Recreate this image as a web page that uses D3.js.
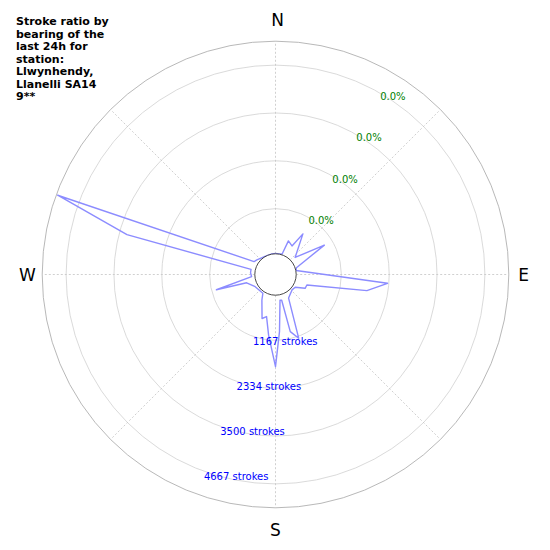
<!DOCTYPE html>
<html>
<head>
<meta charset="utf-8">
<script src="https://cdn.jsdelivr.net/npm/d3@7"></script>
<style>
  body { margin: 0; background: #fff; }
  svg text { font-family: "DejaVu Sans", sans-serif; }
</style>
</head>
<body>
<div id="chart"></div>
<script>
const width = 550;
const height = 550;

// bearing (deg) of each vertex of the stroke outline and its stroke count
const bearings = [0, 10, 18, 21, 30, 34, 49, 59, 72, 79, 94.5, 100, 108.5, 115, 123, 133, 151, 160, 165.5, 166.5,
  170, 176, 180, 186.5, 192, 197, 208, 214, 239, 254, 255.5, 265, 274, 282, 285, 290, 301, 308, 330, 350];
const strokes = [73, 73, 85, 439, 366, 756, 195, 951, 98, 73, 2300, 1824, 368, 358, 134, 112, 219, 1214, 1000, 207,
  195, 958, 1809, 1049, 610, 683, 268, 112, 139, 293, 1049, 146, 171, 171, 3311, 5214, 171, 137, 73, 73];

const ringValues = [1167, 2334, 3500, 4667];
const ringLabels = ["1167 strokes", "2334 strokes", "3500 strokes", "4667 strokes"];
const pctLabels = ["0.0%", "0.0%", "0.0%", "0.0%"];
const compassLabels = ["N", "E", "S", "W"];
const compassBearings = [0, 90, 180, 270];
const gridBearings = [0, 45, 90, 135, 180, 225, 270, 315];
const titleLines = ["Stroke ratio by", "bearing of the", "last 24h for", "station:", "Llwynhendy,", "Llanelli SA14", "9**"];

const cx = 275.5, cy = 274.5;
const innerR = 20.7;
const outerR = 233.3;

const r = d3.scaleLinear().domain([0, 5250]).range([18, outerR]);
const toRad = d => d * Math.PI / 180;
const px = (b, rad) => cx + rad * Math.sin(toRad(b));
const py = (b, rad) => cy - rad * Math.cos(toRad(b));

const svg = d3.select("#chart").append("svg")
  .attr("width", width)
  .attr("height", height);

// rings
svg.selectAll("circle.ring")
  .data(ringValues)
  .enter().append("circle")
  .attr("class", "ring")
  .attr("cx", cx).attr("cy", cy)
  .attr("r", d => r(d))
  .attr("fill", "none")
  .attr("stroke", "#d0d0d0")
  .attr("stroke-width", 0.8);

svg.append("circle")
  .attr("cx", cx).attr("cy", cy)
  .attr("r", outerR)
  .attr("fill", "none")
  .attr("stroke", "#b0b0b0")
  .attr("stroke-width", 0.9);

// radial grid
svg.selectAll("line.spoke")
  .data(gridBearings)
  .enter().append("line")
  .attr("class", "spoke")
  .attr("x1", d => px(d, innerR)).attr("y1", d => py(d, innerR))
  .attr("x2", d => px(d, outerR)).attr("y2", d => py(d, outerR))
  .attr("stroke", "#c4c4c4")
  .attr("stroke-width", 0.8)
  .attr("stroke-dasharray", "2,2");

// stroke outline
const pts = bearings.map((b, i) => [toRad(b), r(strokes[i])]);
const radial = d3.lineRadial()
  .angle(d => d[0])
  .radius(d => d[1])
  .curve(d3.curveLinearClosed);

svg.append("path")
  .attr("transform", `translate(${cx},${cy})`)
  .attr("d", radial(pts))
  .attr("fill", "none")
  .attr("stroke", "#8c8cff")
  .attr("stroke-width", 1.4)
  .attr("stroke-linejoin", "round");

// hole
svg.append("circle")
  .attr("cx", cx).attr("cy", cy)
  .attr("r", innerR)
  .attr("fill", "#fff")
  .attr("stroke", "#333")
  .attr("stroke-width", 0.9);

// ring labels
svg.selectAll("text.rl")
  .data(ringValues)
  .enter().append("text")
  .attr("class", "rl")
  .attr("x", d => px(200, r(d)))
  .attr("y", d => py(200, r(d)) + 9)
  .attr("font-size", 10)
  .attr("fill", "blue")
  .text((d, i) => ringLabels[i]);

svg.selectAll("text.pl")
  .data(ringValues)
  .enter().append("text")
  .attr("class", "pl")
  .attr("x", d => px(30, r(d)))
  .attr("y", d => py(30, r(d)) + 6.5)
  .attr("font-size", 10)
  .attr("fill", "green")
  .text((d, i) => pctLabels[i]);

// compass
svg.selectAll("text.cp")
  .data(compassBearings)
  .enter().append("text")
  .attr("class", "cp")
  .attr("x", d => px(d, d % 180 === 0 ? 254 : 248) + (d === 0 ? 2 : 0))
  .attr("y", d => py(d, d % 180 === 0 ? 255 : 248))
  .attr("dy", "0.36em")
  .attr("text-anchor", "middle")
  .attr("font-size", 17)
  .text((d, i) => compassLabels[i]);

// title
svg.append("text")
  .attr("x", 16)
  .attr("y", 25)
  .attr("font-size", 11)
  .attr("font-weight", "bold")
  .selectAll("tspan")
  .data(titleLines)
  .enter().append("tspan")
  .attr("x", 16)
  .attr("dy", (d, i) => i === 0 ? 0 : 12.5)
  .text(d => d);
</script>
</body>
</html>
